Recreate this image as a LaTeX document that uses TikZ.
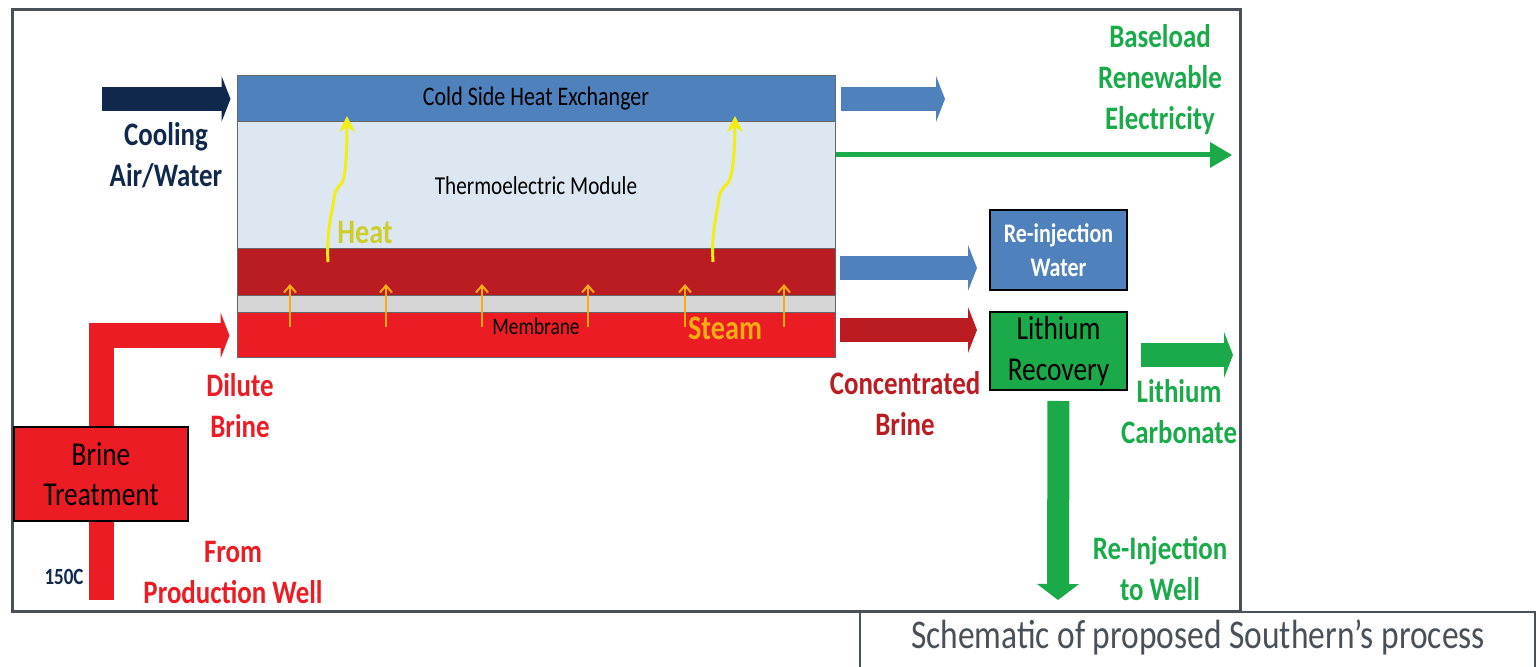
\documentclass[tikz,border=0pt]{standalone}
\usepackage{fontspec}
\setmainfont{Carlito}[FakeStretch=0.82]
\usetikzlibrary{arrows.meta}

\definecolor{navyblue}{RGB}{16,40,76}
\definecolor{hxblue}{RGB}{79,129,189}
\definecolor{teblue}{RGB}{221,231,242}
\definecolor{hotred}{RGB}{186,28,34}
\definecolor{feedred}{RGB}{236,28,36}
\definecolor{memgray}{RGB}{214,214,214}
\definecolor{ligreen}{RGB}{26,170,74}
\definecolor{heatyel}{RGB}{242,238,20}
\definecolor{heattxt}{RGB}{205,205,45}
\definecolor{steamor}{RGB}{246,172,20}
\definecolor{framegray}{RGB}{72,80,88}

\begin{document}
\begin{tikzpicture}[x=0.5pt,y=-0.5pt,
	layer/.style={draw=black!60, line width=0.5pt, minimum width=299pt, inner sep=0pt},
	box/.style={draw=black, line width=1pt, minimum width=68.5pt, inner sep=0pt, align=center},
	lbl/.style={font=\bfseries\fontsize{16.4}{20.5}\selectfont, align=center, inner sep=0pt},
	flow/.style={draw=#1, line width=12pt, -{Triangle[length=4.5pt,width=23pt,line width=0pt]}},
	downflow/.style={draw=ligreen, line width=11pt, -{Triangle[length=8pt,width=21pt,line width=0pt]}},
	elecflow/.style={draw=ligreen, line width=2.5pt, -{Triangle[length=11pt,width=13pt,line width=0pt]}},
	steam/.style={draw=steamor, line width=1pt, -{Straight Barb[length=3.5pt,width=6pt]}},
	heat/.style={draw=heatyel, line width=1.5pt, -{Stealth[length=8pt,width=8pt]}}]

	\clip (0,0) rectangle (1538,667);
	\draw[framegray, line width=1.5pt] (12,10) rectangle (1240,612);

	\node[layer, fill=hxblue, minimum height=23pt, font=\fontsize{13.4}{15}\selectfont] (hx) at (536,99) {Cold Side Heat Exchanger};
	\node[layer, fill=teblue, minimum height=63.5pt, font=\fontsize{12.9}{15}\selectfont] (te) at (536,185.5) {Thermoelectric Module};
	\node[layer, fill=hotred, minimum height=23.5pt] (hot) at (536,272.5) {};
	\node[layer, fill=memgray, minimum height=8.5pt] (mem) at (536,304.5) {};
	\node[layer, fill=feedred, minimum height=22.5pt] (feed) at (536,335.5) {};
	\node[inner sep=0pt, font=\fontsize{11.8}{13}\selectfont] (memlbl) at (536,326) {Membrane};

	\draw[steam] (290,327) -- (290,284);
	\draw[steam] (386,327) -- (386,284);
	\draw[steam] (482,327) -- (482,284);
	\draw[steam] (588,327) -- (588,284);
	\draw[steam] (685,327) -- (685,284);
	\draw[steam] (784,327) -- (784,284);
	\node[lbl, text=steamor, font=\bfseries\fontsize{17.2}{19}\selectfont] (steamlbl) at (725,328) {Steam};

	\coordinate (heat1) at (328,262);
	\coordinate (heat1top) at (347,116);
	\coordinate (heat2) at (713,262);
	\coordinate (heat2top) at (735,116);
	\draw[heat] (heat1) .. controls +(-2,-32) and +(-1,12) .. ++(6,-64) .. controls +(1,-8) and +(-4,4) .. ++(8,-15) .. controls +(4,-6) and +(0,30) .. (heat1top);
	\draw[heat] (heat2) .. controls +(-2,-32) and +(-1,12) .. ++(6,-64) .. controls +(1,-8) and +(-4,4) .. ++(9,-15) .. controls +(5,-6) and +(0,30) .. (heat2top);
	\node[lbl, text=heattxt, font=\bfseries\fontsize{17.2}{19}\selectfont] (heatlbl) at (365,232) {Heat};

	\coordinate (coolin) at (102,99);
	\draw[flow=navyblue, shorten >=3pt] (coolin) -- (hx.west);
	\node[lbl, text=navyblue] (coollbl) at (166,155) {Cooling\\Air/Water};

	\coordinate (hxout) at (945,99);
	\draw[flow=hxblue, shorten <=2.5pt] (hx.east) -- (hxout);
	\coordinate (elec) at (1232,155);
	\draw[elecflow] (te.east |- elec) -- (elec);
	\node[lbl, text=ligreen] (eleclbl) at (1160,80) {Baseload\\Renewable\\Electricity};

	\node[box, fill=hxblue, minimum height=40pt, text=white, font=\bfseries\fontsize{13.4}{17}\selectfont] (reinj) at (1058.5,250) {Re-injection\\Water};
	\node[box, fill=ligreen, minimum height=39pt, font=\fontsize{16.7}{20.5}\selectfont] (lirec) at (1058.5,351) {Lithium\\Recovery};

	\coordinate (wout) at (840,268);
	\draw[flow=hxblue, shorten >=6pt] (wout) -- (wout -| reinj.west);
	\coordinate (cout) at (840,330);
	\draw[flow=hotred, shorten >=6pt] (cout) -- (cout -| lirec.west);
	\node[lbl, text=hotred] (conclbl) at (905,404) {Concentrated\\Brine};

	\coordinate (carb) at (1233,355);
	\draw[flow=ligreen, shorten <=6.5pt] (lirec.east |- carb) -- (carb);
	\node[lbl, text=ligreen] (carblbl) at (1179,412) {Lithium\\Carbonate};
	\coordinate (wellret) at (1058,600);
	\draw[downflow, shorten <=5pt] (lirec.south) -- (wellret);
	\node[lbl, text=ligreen] (retlbl) at (1160,569) {Re-Injection\\to Well};

	\coordinate (well) at (101,600);
	\draw[flow=feedred, line width=12.5pt, line join=miter, shorten >=3.5pt] (well) |- (feed.west);
	\node[box, fill=feedred, minimum width=87pt, minimum height=47pt, font=\fontsize{16.7}{20}\selectfont] (brinetx) at (101,474) {Brine\\Treatment};
	\node[lbl, text=navyblue, font=\bfseries\fontsize{11.6}{13}\selectfont] (templbl) at (64,577) {150C};
	\node[lbl, text=feedred] (dillbl) at (240,406) {Dilute\\Brine};
	\node[lbl, text=feedred] (welllbl) at (233,572) {From\\Production Well};

	\draw[framegray, line width=1pt, fill=white] (860,612) rectangle (1535,700);
	\node[inner sep=0pt, text=framegray, font=\fontsize{20.4}{22}\selectfont] (caption) at (1198,637) {Schematic of proposed Southern’s process};
\end{tikzpicture}
\end{document}
